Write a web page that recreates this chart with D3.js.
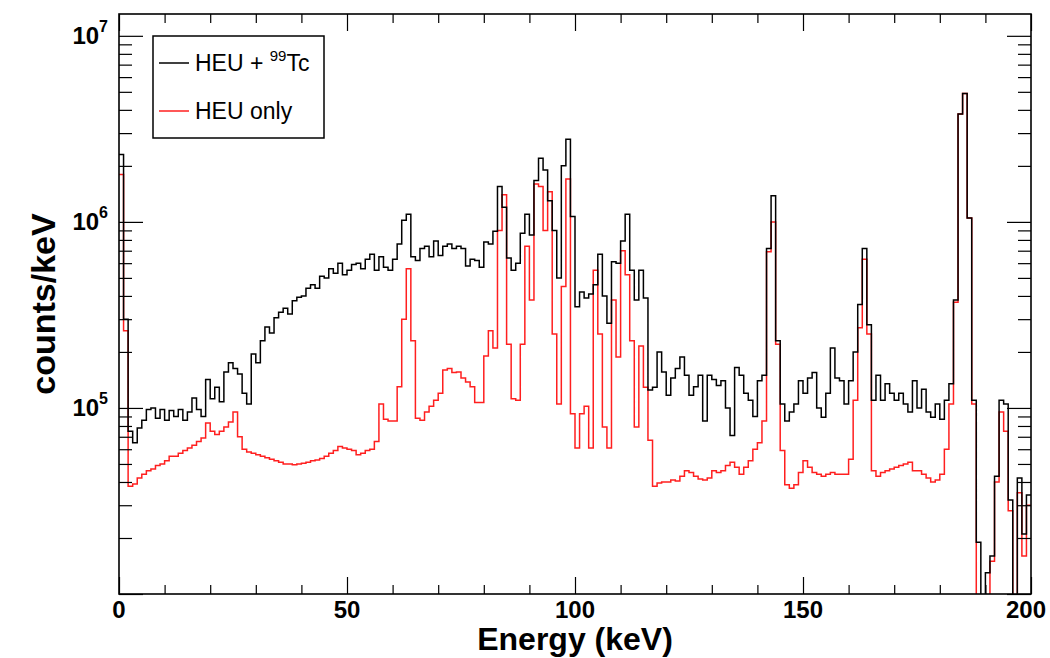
<!DOCTYPE html>
<html><head><meta charset="utf-8">
<script src="https://cdn.jsdelivr.net/npm/d3@7"></script>
<style>
body{margin:0;background:#fff;}
svg{display:block;}
text{font-family:"Liberation Sans",Arial,Helvetica,sans-serif;}
</style>
</head><body>
<svg id="chart" width="1050" height="658"></svg>
<script>
// ---------------- data ----------------
// 1 keV bins, low edges 0..199 keV
const binWidthKeV = 1;
const binLowEdges = d3.range(0, 200, binWidthKeV);

// HEU + 99Tc (black), counts/keV
const heuTc = [
 2.3e6,3.0e5,7.5e4,6.5e4,7.8e4,8.6e4,9.8e4,1.0e5,8.8e4,9.8e4,
 8.6e4,9.7e4,9.0e4,9.8e4,8.6e4,9.5e4,1.13e5,9.8e4,9.0e4,1.42e5,
 1.12e5,1.29e5,1.08e5,1.56e5,1.75e5,1.63e5,1.52e5,1.2e5,1.05e5,1.95e5,
 1.75e5,2.3e5,2.72e5,2.53e5,3.05e5,3.27e5,3.43e5,3.2e5,3.77e5,3.94e5,
 4.0e5,4.4e5,4.6e5,4.4e5,5.1e5,5.0e5,5.6e5,5.3e5,6.0e5,5.2e5,
 5.5e5,5.9e5,6.0e5,5.6e5,6.3e5,6.7e5,5.5e5,6.5e5,5.7e5,5.5e5,
 6.3e5,7.6e5,1.02e6,1.1e6,6.5e5,6.2e5,7.2e5,7.4e5,6.5e5,7.9e5,
 6.6e5,7.4e5,7.6e5,7.2e5,7.4e5,7.2e5,5.8e5,6.3e5,6.2e5,5.7e5,
 7.8e5,7.6e5,8.9e5,1.55e6,1.2e6,6.4e5,5.5e5,6.0e5,8.7e5,1.1e6,
 8.5e5,1.67e6,2.2e6,1.9e6,1.3e6,9.0e5,5.0e5,2.0e6,2.78e6,1.07e6,
 3.5e5,4.2e5,3.9e5,4.1e5,4.6e5,6.7e5,4.0e5,2.85e5,6.1e5,6.0e5,
 7.9e5,1.1e6,5.5e5,3.8e5,5.5e5,3.9e5,1.25e5,1.29e5,2.0e5,1.56e5,
 1.17e5,1.45e5,1.63e5,1.88e5,1.5e5,1.17e5,1.3e5,1.5e5,8.5e4,1.5e5,
 1.42e5,1.32e5,1.4e5,1.0e5,7.1e4,1.65e5,1.5e5,1.2e5,1.1e5,9.0e4,
 1.4e5,1.5e5,7.2e5,1.38e6,2.3e5,1.05e5,8.5e4,9.5e4,1.05e5,1.4e5,
 1.2e5,1.45e5,1.55e5,1.0e5,8.9e4,1.2e5,2.1e5,1.45e5,1.4e5,1.05e5,
 1.4e5,2.0e5,3.6e5,7.2e5,2.8e5,1.1e5,1.5e5,1.1e5,1.35e5,1.2e5,
 1.1e5,1.2e5,1.05e5,9.5e4,1.4e5,1.0e5,1.26e5,9.5e4,8.9e4,1.05e5,
 8.7e4,1.1e5,1.35e5,3.8e5,3.8e6,4.9e6,1.05e6,1.1e5,1.9e4,0,
 1.3e4,1.6e4,4.3e4,1.1e5,1.05e5,3.2e4,0,4.2e4,2.1e4,3.4e4
];

// HEU only (red), counts/keV
const heuOnly = [
 1.8e6,2.6e5,3.8e4,3.9e4,4.2e4,4.4e4,4.6e4,4.7e4,4.9e4,5.0e4,
 5.2e4,5.5e4,5.5e4,5.7e4,5.9e4,6.1e4,6.3e4,6.6e4,6.9e4,8.3e4,
 7.5e4,7.2e4,7.5e4,7.9e4,8.4e4,9.5e4,7.0e4,6.0e4,5.8e4,5.7e4,
 5.6e4,5.5e4,5.4e4,5.3e4,5.2e4,5.1e4,5.0e4,5.0e4,4.95e4,5.0e4,
 5.05e4,5.1e4,5.2e4,5.25e4,5.35e4,5.5e4,5.7e4,5.9e4,6.2e4,6.1e4,
 6.0e4,5.9e4,5.6e4,5.7e4,5.9e4,6.0e4,6.6e4,1.05e5,8.7e4,8.5e4,
 8.5e4,1.3e5,3.0e5,5.6e5,2.3e5,8.8e4,8.6e4,9.5e4,1.02e5,1.1e5,
 1.2e5,1.6e5,1.63e5,1.55e5,1.56e5,1.45e5,1.38e5,1.3e5,1.07e5,1.07e5,
 1.9e5,2.6e5,2.1e5,9.0e5,1.4e6,2.2e5,1.12e5,1.1e5,2.2e5,7.4e5,
 3.8e5,1.6e6,1.55e6,9.0e5,1.45e6,2.5e5,1.05e5,4.5e5,1.7e6,9.3e4,
 6.1e4,9.3e4,1.02e5,6.1e4,5.5e5,2.5e5,7.9e4,6.1e4,3.8e5,1.88e5,
 7.0e5,5.2e5,2.3e5,7.9e4,2.15e5,1.29e5,6.7e4,3.8e4,3.95e4,4.0e4,
 4.0e4,4.1e4,4.05e4,4.3e4,4.6e4,4.5e4,4.3e4,4.15e4,4.1e4,4.2e4,
 4.6e4,4.5e4,4.6e4,4.9e4,5.1e4,4.8e4,4.4e4,4.8e4,5.2e4,6.0e4,
 6.5e4,8.5e4,6.9e5,1.0e6,2.2e5,5.9e4,3.86e4,3.7e4,3.86e4,4.5e4,
 5.2e4,4.8e4,4.5e4,4.4e4,4.3e4,4.4e4,4.5e4,4.4e4,4.4e4,4.4e4,
 5.3e4,1.1e5,2.7e5,6.3e5,2.5e5,4.6e4,4.3e4,4.5e4,4.6e4,4.7e4,
 4.8e4,4.9e4,5.0e4,5.1e4,4.6e4,4.6e4,4.4e4,4.2e4,4.0e4,4.1e4,
 4.4e4,6.0e4,1.05e5,3.7e5,3.8e6,4.9e6,1.05e6,1.05e5,0,0,
 0,1.5e4,4.0e4,9.5e4,7.5e4,2.8e4,0,3.5e4,1.6e4,3.0e4
];

const xDomain = [0, 200];
const xMajorTicks = [0, 50, 100, 150, 200];
const xMajorLabels = ["0", "50", "100", "150", "200"];
const xMinorStep = 10;
const yDomain = [1e4, 1.31e7];
const yLabelExponents = [5, 6, 7];
const seriesLabels = ["HEU + ", "HEU only"];
const seriesColors = ["#000000", "#ff1f1f"];
const xTitle = "Energy (keV)";
const yTitle = "counts/keV";

// ---------------- layout ----------------
const L = 119, R = 1031, T = 14, B = 594;
const svg = d3.select("#chart");
const x = d3.scaleLinear().domain(xDomain).range([L, R]);
const y = d3.scaleLog().domain(yDomain).range([B, T]);

const defs = svg.append("defs");
defs.append("clipPath").attr("id", "plotclip")
  .append("rect").attr("x", L).attr("y", T).attr("width", R - L).attr("height", B - T);

// ---------------- histograms ----------------
function histPath(vals) {
  const pts = binLowEdges.map((e, i) => [e, vals[i]]);
  pts.push([binLowEdges[binLowEdges.length - 1] + binWidthKeV, vals[vals.length - 1]]);
  return d3.line()
    .x(d => x(d[0]))
    .y(d => d[1] > 0 ? y(d[1]) : B + 6)
    .curve(d3.curveStepAfter)(pts);
}
const g = svg.append("g").attr("clip-path", "url(#plotclip)");
g.append("path").attr("d", histPath(heuOnly)).attr("fill", "none")
  .attr("stroke", seriesColors[1]).attr("stroke-width", 1.5);
g.append("path").attr("d", histPath(heuTc)).attr("fill", "none")
  .attr("stroke", seriesColors[0]).attr("stroke-width", 1.5);

// ---------------- axes / ticks ----------------
const minorX = d3.range(xDomain[0], xDomain[1] + 0.001, xMinorStep).filter(v => !xMajorTicks.includes(v));
const majLenX = 17, minLenX = 9;
const majLenY = 24, minLenY = 13;

svg.append("g").attr("transform", `translate(0,${B})`)
  .call(d3.axisBottom(x).tickValues(xMajorTicks).tickSize(-majLenX).tickFormat(""))
  .call(a => a.select(".domain").remove());
svg.append("g").attr("transform", `translate(0,${B})`)
  .call(d3.axisBottom(x).tickValues(minorX).tickSize(-minLenX).tickFormat(""))
  .call(a => a.select(".domain").remove());
svg.append("g").attr("transform", `translate(0,${T})`)
  .call(d3.axisTop(x).tickValues(xMajorTicks).tickSize(-majLenX).tickFormat(""))
  .call(a => a.select(".domain").remove());
svg.append("g").attr("transform", `translate(0,${T})`)
  .call(d3.axisTop(x).tickValues(minorX).tickSize(-minLenX).tickFormat(""))
  .call(a => a.select(".domain").remove());

const yMajor = [1e4, 1e5, 1e6, 1e7].filter(v => v >= yDomain[0] && v <= yDomain[1]);
const yMinor = [];
[1e4, 1e5, 1e6, 1e7].forEach(d => { for (let k = 2; k <= 9; k++) { const v = k * d; if (v > yDomain[0] && v < yDomain[1]) yMinor.push(v); } });

svg.append("g").attr("transform", `translate(${L},0)`)
  .call(d3.axisLeft(y).tickValues(yMajor).tickSize(-majLenY).tickFormat(""))
  .call(a => a.select(".domain").remove());
svg.append("g").attr("transform", `translate(${L},0)`)
  .call(d3.axisLeft(y).tickValues(yMinor).tickSize(-minLenY).tickFormat(""))
  .call(a => a.select(".domain").remove());
svg.append("g").attr("transform", `translate(${R},0)`)
  .call(d3.axisRight(y).tickValues(yMajor).tickSize(-majLenY).tickFormat(""))
  .call(a => a.select(".domain").remove());
svg.append("g").attr("transform", `translate(${R},0)`)
  .call(d3.axisRight(y).tickValues(yMinor).tickSize(-minLenY).tickFormat(""))
  .call(a => a.select(".domain").remove());
svg.selectAll(".tick line").attr("stroke", "#000").attr("stroke-width", 1.2);

// frame
svg.append("rect").attr("x", L).attr("y", T).attr("width", R - L).attr("height", B - T)
  .attr("fill", "none").attr("stroke", "#000").attr("stroke-width", 1.6);

// x labels
svg.append("g").selectAll("text").data(xMajorTicks).join("text")
  .attr("x", d => x(d)).attr("y", B + 24)
  .attr("dx", (d, i) => i === xMajorTicks.length - 1 ? -5 : 0)
  .attr("text-anchor", "middle").attr("font-size", 24).attr("font-weight", "bold")
  .text((d, i) => xMajorLabels[i]);

// y labels 10^n
yLabelExponents.forEach(n => {
  const yy = y(Math.pow(10, n));
  const t = svg.append("text").attr("x", 108).attr("y", yy + 8)
    .attr("text-anchor", "end").attr("font-weight", "bold").attr("font-size", 24);
  t.append("tspan").text("10");
  t.append("tspan").attr("dy", -12).attr("font-size", 16).text(String(n));
});

// axis titles
svg.append("text").attr("x", (L + R) / 2).attr("y", 650)
  .attr("text-anchor", "middle").attr("font-size", 32).attr("font-weight", "bold").text(xTitle);
svg.append("text").attr("transform", `translate(55,${(T + B) / 2}) rotate(-90)`)
  .attr("text-anchor", "middle").attr("font-size", 34).attr("font-weight", "bold").text(yTitle);

// legend
const lg = svg.append("g");
lg.append("rect").attr("x", 153).attr("y", 36).attr("width", 171).attr("height", 102)
  .attr("fill", "#fff").attr("stroke", "#000").attr("stroke-width", 1.5);
const legY = [63, 111];
seriesLabels.forEach((lab, i) => {
  lg.append("line").attr("x1", 159).attr("x2", 189).attr("y1", legY[i]).attr("y2", legY[i])
    .attr("stroke", seriesColors[i]).attr("stroke-width", 1.5);
  const t = lg.append("text").attr("x", 195).attr("y", legY[i] + 8).attr("font-size", 23);
  t.append("tspan").text(lab);
  if (i === 0) {
    t.append("tspan").attr("dy", -10).attr("font-size", 15).text("99");
    t.append("tspan").attr("dy", 10).text("Tc");
  }
});
</script>
</body></html>
